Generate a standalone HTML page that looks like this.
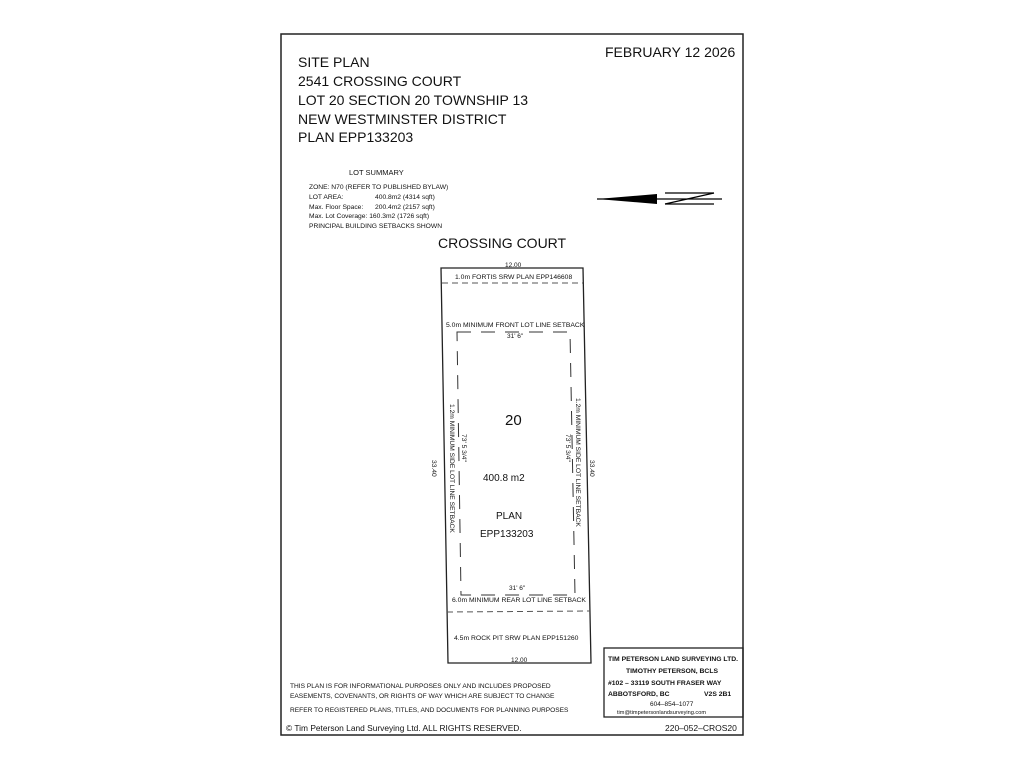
<!DOCTYPE html>
<html><head><meta charset="utf-8"><style>
body{margin:0;background:#fff;width:1024px;height:768px;overflow:hidden}
svg{display:block}
text{font-family:"Liberation Sans",sans-serif;fill:#111}
</style></head><body>
<svg width="1024" height="768" viewBox="0 0 1024 768">
<rect x="281" y="34" width="462" height="701" fill="none" stroke="#222" stroke-width="1.5"/>
<text x="605" y="57" font-size="14">FEBRUARY 12 2026</text>
<g font-size="14">
<text x="298" y="67">SITE PLAN</text>
<text x="298" y="86">2541 CROSSING COURT</text>
<text x="298" y="105">LOT 20 SECTION 20 TOWNSHIP 13</text>
<text x="298" y="124">NEW WESTMINSTER DISTRICT</text>
<text x="298" y="142">PLAN EPP133203</text>
</g>
<text x="349" y="175" font-size="7.5">LOT SUMMARY</text>
<g font-size="6.7">
<text x="309" y="189">ZONE: N70 (REFER TO PUBLISHED BYLAW)</text>
<text x="309" y="199">LOT AREA:</text><text x="375" y="199">400.8m2 (4314 sqft)</text>
<text x="309" y="209">Max. Floor Space:</text><text x="375" y="209">200.4m2 (2157 sqft)</text>
<text x="309" y="218">Max. Lot Coverage: 160.3m2 (1726 sqft)</text>
<text x="309" y="228">PRINCIPAL BUILDING SETBACKS SHOWN</text>
</g>
<polygon points="597,199 657,194 657,204" fill="#000"/>
<line x1="597" y1="199" x2="722" y2="199" stroke="#000" stroke-width="1.2"/>
<line x1="665" y1="193" x2="714" y2="193" stroke="#000" stroke-width="1.2"/>
<line x1="665" y1="204" x2="714" y2="204" stroke="#000" stroke-width="1.2"/>
<line x1="665" y1="204" x2="714" y2="193" stroke="#000" stroke-width="1.2"/>
<text x="438" y="248" font-size="14">CROSSING COURT</text>
<text x="505" y="267" font-size="6.5">12.00</text>
<polygon points="441,268 583,268 591,663 448,663" fill="none" stroke="#222" stroke-width="1.3"/>
<text x="455" y="279" font-size="6.8" fill="#444">1.0m FORTIS SRW PLAN EPP146608</text>
<line x1="442" y1="283" x2="583" y2="283" stroke="#555" stroke-dasharray="6,4"/>
<text x="446" y="327" font-size="6.8">5.0m MINIMUM FRONT LOT LINE SETBACK</text>
<text x="507" y="338" font-size="6.5">31' 6"</text>
<polygon points="457,332 570,332 575,595 461,595" fill="none" stroke="#333" stroke-dasharray="14,10"/>
<text x="505" y="425" font-size="15">20</text>
<text x="483" y="481" font-size="10">400.8 m2</text>
<text x="496" y="519" font-size="10">PLAN</text>
<text x="480" y="537" font-size="10">EPP133203</text>
<g font-size="6.7">
<text transform="translate(450,404) rotate(90)">1.2m MINIMUM SIDE LOT LINE SETBACK</text>
<text transform="translate(462,434) rotate(90)">73' 5 3/4"</text>
<text transform="translate(432,460) rotate(90)">33.40</text>
<text transform="translate(576,398) rotate(90)">1.2m MINIMUM SIDE LOT LINE SETBACK</text>
<text transform="translate(566,434) rotate(90)">73' 5 3/4"</text>
<text transform="translate(590,460) rotate(90)">33.40</text>
</g>
<text x="509" y="590" font-size="6.5">31' 6"</text>
<text x="452" y="602" font-size="6.8">6.0m MINIMUM REAR LOT LINE SETBACK</text>
<line x1="447" y1="612" x2="590" y2="611" stroke="#555" stroke-dasharray="6,4"/>
<text x="454" y="640" font-size="6.8" fill="#444">4.5m ROCK PIT SRW PLAN EPP151260</text>
<text x="511" y="662" font-size="6.5">12.00</text>
<rect x="604" y="648" width="139" height="69" fill="none" stroke="#222" stroke-width="1.3"/>
<g font-size="6.8" font-weight="bold">
<text x="608" y="661">TIM PETERSON LAND SURVEYING LTD.</text>
<text x="626" y="673">TIMOTHY PETERSON, BCLS</text>
<text x="608" y="685">#102 – 33119 SOUTH FRASER WAY</text>
<text x="608" y="696">ABBOTSFORD, BC</text><text x="704" y="696">V2S 2B1</text>
</g>
<text x="650" y="706" font-size="6.5">604–854–1077</text>
<text x="617" y="714" font-size="5.6">tim@timpetersonlandsurveying.com</text>
<text x="665" y="731" font-size="8.5">220–052–CROS20</text>
<g font-size="6.6">
<text x="290" y="688">THIS PLAN IS FOR INFORMATIONAL PURPOSES ONLY AND INCLUDES PROPOSED</text>
<text x="290" y="698">EASEMENTS, COVENANTS, OR RIGHTS OF WAY WHICH ARE SUBJECT TO CHANGE</text>
<text x="290" y="712">REFER TO REGISTERED PLANS, TITLES, AND DOCUMENTS FOR PLANNING PURPOSES</text>
</g>
<text x="286" y="731" font-size="8.4">© Tim Peterson Land Surveying Ltd.  ALL RIGHTS RESERVED.</text>
</svg>
</body></html>
